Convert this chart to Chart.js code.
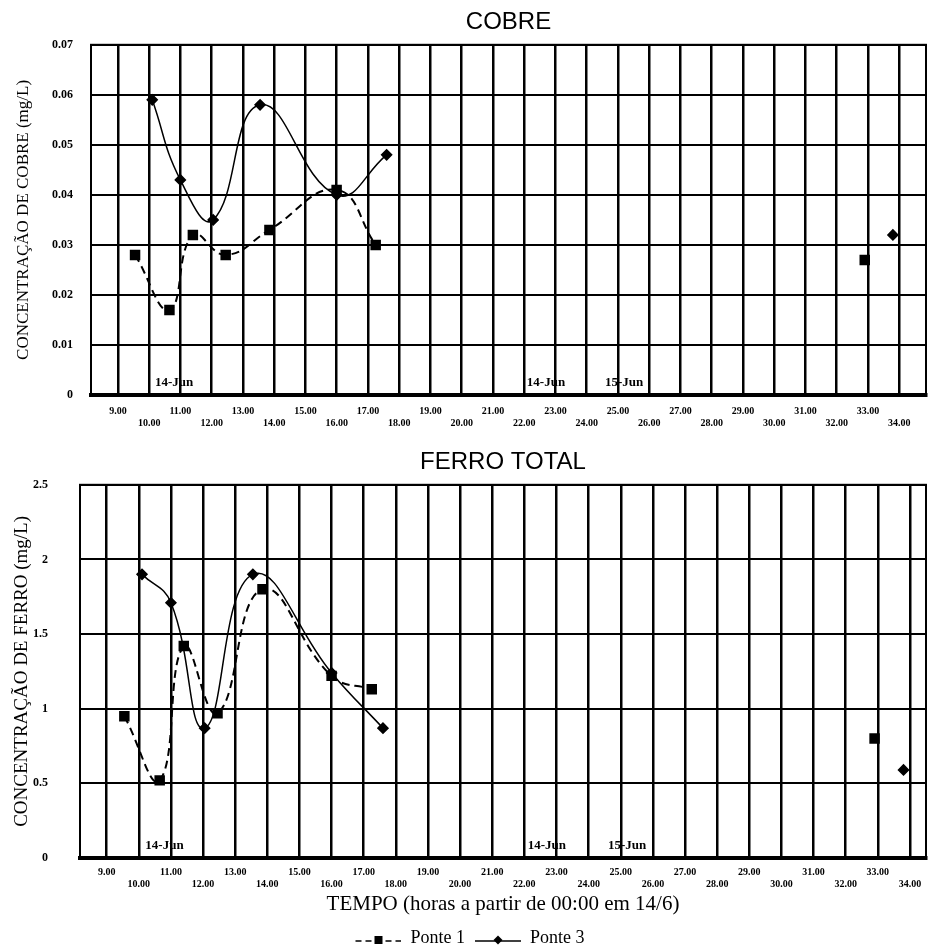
<!DOCTYPE html>
<html>
<head>
<meta charset="utf-8">
<script src="https://cdn.jsdelivr.net/npm/chart.js@4.4.1/dist/chart.umd.min.js"></script>
<style>
  html, body { margin: 0; padding: 0; background: #fff; }
  .painel { position: absolute; left: 0; width: 934px; }
  #painelCobre { top: 0; height: 440px; }
  #painelFerro { top: 440px; height: 510px; }
</style>
</head>
<body>
<div class="painel" id="painelCobre"><canvas id="graficoCobre"></canvas></div>
<div class="painel" id="painelFerro"><canvas id="graficoFerro"></canvas></div>
<script>
// horas de coleta (a partir de 00:00 em 14/6)
const horasPonte1 = [9.55, 10.65, 11.4, 12.45, 13.85, 16.0, 17.25, 32.9];
const horasPonte3 = [10.1, 11.0, 12.05, 13.55, 16.0, 17.6, 33.8];

// cobre (mg/L)
const cobrePonte1 = [0.028, 0.017, 0.032, 0.028, 0.033, 0.041, 0.030, 0.027];
const cobrePonte3 = [0.059, 0.043, 0.035, 0.058, 0.040, 0.048, 0.032];

// ferro total (mg/L)
const ferroPonte1 = [0.95, 0.52, 1.42, 0.97, 1.80, 1.22, 1.13, 0.80];
const ferroPonte3 = [1.90, 1.71, 0.87, 1.90, 1.24, 0.87, 0.59];

// eixo x
const horasTicks = [9, 10, 11, 12, 13, 14, 15, 16, 17, 18, 19, 20, 21, 22, 23, 24, 25, 26, 27, 28, 29, 30, 31, 32, 33, 34];
const rotulosTicks = ['9.00', '10.00', '11.00', '12.00', '13.00', '14.00', '15.00', '16.00', '17.00',
  '18.00', '19.00', '20.00', '21.00', '22.00', '23.00', '24.00', '25.00', '26.00', '27.00', '28.00',
  '29.00', '30.00', '31.00', '32.00', '33.00', '34.00'];

// datas marcadas dentro do grafico
const datasDia = ['14-Jun', '14-Jun', '15-Jun'];
const horasDatas = [10.8, 22.7, 25.2];

Chart.defaults.font.family = "'Liberation Serif', 'DejaVu Serif', serif";
Chart.defaults.color = '#000';

// junta horas e valores; quebra a linha quando ha um intervalo longo sem coleta
function montarSerie(horas, valores) {
  const pts = [];
  horas.forEach((h, i) => {
    if (valores[i] === null) return;
    const ant = pts[pts.length - 1];
    if (ant && h - ant.x > 6) pts.push({ x: (ant.x + h) / 2, y: null });
    pts.push({ x: h, y: valores[i] });
  });
  return pts;
}

// amostra da legenda: linha + marcador desenhados num canvas pequeno
function amostraLegenda(tracejado, estilo) {
  const c = document.createElement('canvas');
  c.width = 56; c.height = 16;
  const g = c.getContext('2d');
  g.strokeStyle = '#000';
  g.lineWidth = 1.6;
  g.setLineDash(tracejado ? [6, 4] : []);
  g.beginPath(); g.moveTo(10, 11); g.lineTo(56, 11); g.stroke();
  g.fillStyle = '#000';
  g.translate(33, 10);
  if (estilo === 'rect') {
    g.fillRect(-4, -4, 8, 8);
  } else {
    g.rotate(Math.PI / 4);
    g.fillRect(-3.2, -3.2, 6.4, 6.4);
  }
  return c;
}

const molduraPlugin = {
  id: 'moldura',
  beforeDatasetsDraw(chart) {
    const { ctx, chartArea: a } = chart;
    ctx.save();
    ctx.strokeStyle = '#000';
    ctx.lineWidth = 2;
    ctx.strokeRect(a.left, a.top, a.right - a.left, a.bottom - a.top);
    ctx.restore();
  },
  afterDatasetsDraw(chart) {
    const { ctx, chartArea: a, scales } = chart;
    ctx.save();
    ctx.fillStyle = '#000';
    ctx.font = "bold 13px 'Liberation Serif'";
    ctx.textAlign = 'center';
    ctx.textBaseline = 'bottom';
    datasDia.forEach((d, i) => {
      ctx.fillText(d, scales.x.getPixelForValue(horasDatas[i]), a.bottom - 6);
    });
    ctx.restore();
  }
};

function conjuntos(valores1, valores3) {
  return [
    {
      label: 'Ponte 1',
      data: montarSerie(horasPonte1, valores1),
      borderColor: '#000', backgroundColor: '#000',
      borderWidth: 2, borderDash: [8, 5],
      pointStyle: 'rect', pointRadius: 6, pointHoverRadius: 6,
      tension: 0.45, spanGaps: false
    },
    {
      label: 'Ponte 3',
      data: montarSerie(horasPonte3, valores3),
      borderColor: '#000', backgroundColor: '#000',
      borderWidth: 1.5,
      pointStyle: 'rectRot', pointRadius: 5, pointHoverRadius: 5,
      tension: 0.45, spanGaps: false
    }
  ];
}

function eixoX(min, max, altura, padTicks, titulo) {
  return {
    type: 'linear', min: min, max: max,
    afterBuildTicks: s => { s.ticks = horasTicks.map(v => ({ value: v })); },
    afterFit: s => { s.height = altura; },
    grid: { color: '#000', lineWidth: 2.5, drawTicks: false },
    border: { color: '#000', width: 4 },
    title: titulo ? {
      display: true, text: titulo, color: '#000',
      font: { size: 21 }, padding: { top: 2, bottom: 12 }
    } : { display: false },
    ticks: {
      autoSkip: false, maxRotation: 0, padding: padTicks,
      font: { size: 10, weight: 'bold' },
      callback: (v, i) => i % 2 === 0 ? [rotulosTicks[i], ''] : ['', rotulosTicks[i]]
    }
  };
}

function eixoY(max, passo, largura, titulo, tamTitulo, padTitulo, padTicks, formato) {
  return {
    min: 0, max: max,
    afterFit: s => { s.width = largura; },
    grid: { color: '#000', lineWidth: 2, drawTicks: false },
    border: { color: '#000', width: 2 },
    title: {
      display: true, text: titulo, color: '#000',
      font: { size: tamTitulo }, padding: { top: padTitulo, bottom: 0 }
    },
    ticks: { stepSize: passo, padding: padTicks, font: { size: 12, weight: 'bold' }, callback: formato }
  };
}

function tituloGrafico(texto) {
  return {
    display: true, text: texto, fullSize: false, color: '#000',
    font: { family: "'Liberation Sans', Arial, sans-serif", size: 24, weight: 'normal' },
    padding: { top: 8, bottom: 8 }
  };
}

new Chart(document.getElementById('graficoCobre'), {
  type: 'line',
  data: { datasets: conjuntos(cobrePonte1, cobrePonte3) },
  options: {
    responsive: true, maintainAspectRatio: false, animation: false,
    layout: { padding: { top: 0, right: 4, bottom: 0, left: 0 } },
    plugins: {
      legend: { display: false },
      tooltip: { enabled: false },
      title: tituloGrafico('COBRE')
    },
    scales: {
      x: eixoX(8.14, 34.86, 45, 10, null),
      y: eixoY(0.07, 0.01, 91, 'CONCENTRAÇÃO DE COBRE (mg/L)', 17, 13, 18,
        v => v === 0 ? '0' : v.toFixed(2))
    }
  },
  plugins: [molduraPlugin]
});

new Chart(document.getElementById('graficoFerro'), {
  type: 'line',
  data: { datasets: conjuntos(ferroPonte1, ferroPonte3) },
  options: {
    responsive: true, maintainAspectRatio: false, animation: false,
    layout: { padding: { top: 0, right: 4, bottom: -7, left: 0 } },
    plugins: {
      legend: {
        display: true, position: 'bottom',
        labels: {
          usePointStyle: true, pointStyleWidth: 56, padding: 0,
          font: { size: 18 },
          generateLabels: chart => chart.data.datasets.map((ds, i) => ({
            text: ds.label,
            pointStyle: amostraLegenda(i === 0, ds.pointStyle),
            fillStyle: '#000', strokeStyle: '#000', lineWidth: 0,
            fontColor: '#000', hidden: false, datasetIndex: i
          }))
        }
      },
      tooltip: { enabled: false },
      title: tituloGrafico('FERRO TOTAL')
    },
    scales: {
      x: eixoX(8.17, 34.5, 71, 8, 'TEMPO (horas a partir de 00:00 em 14/6)'),
      y: eixoY(2.5, 0.5, 80, 'CONCENTRAÇÃO DE FERRO (mg/L)', 19, 11, 32,
        v => String(v))
    }
  },
  plugins: [molduraPlugin]
});
</script>
</body>
</html>
